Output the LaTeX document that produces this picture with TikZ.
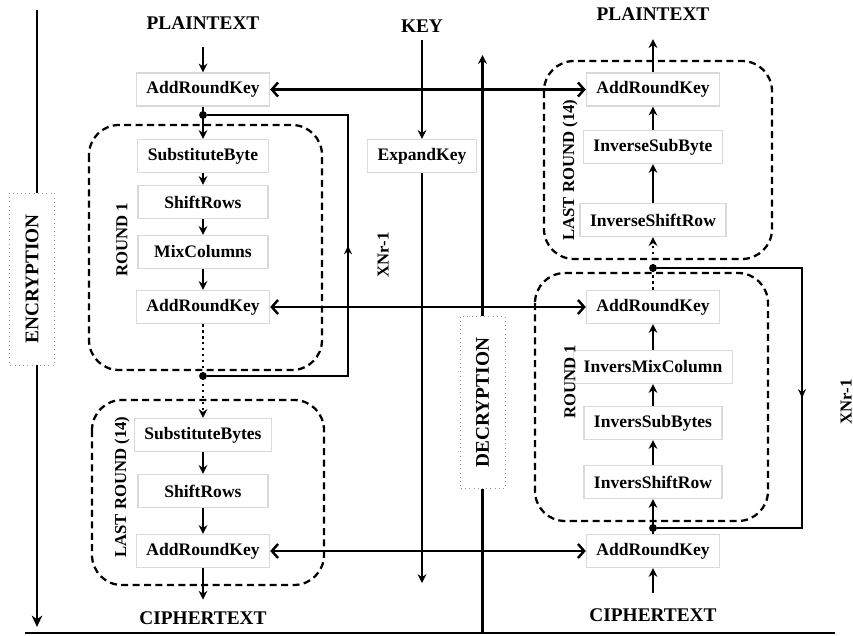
\documentclass[tikz,border=0pt]{standalone}
\usepackage{fontspec}
\setmainfont{Liberation Serif}
\usetikzlibrary{arrows.meta,decorations.markings}

\begin{document}
\begin{tikzpicture}[x=0.02cm,y=-0.02cm,
	op/.style={draw=gray!30,line width=0.7pt,fill=white,font=\bfseries\fontsize{10}{12}\selectfont,minimum height=0.66cm,minimum width=2.6cm,inner xsep=0.2cm},
	lbl/.style={font=\bfseries\fontsize{11}{13}\selectfont,inner sep=0pt},
	tag/.style={font=\bfseries\fontsize{9.5}{11}\selectfont,rotate=90,inner sep=0pt},
	side/.style={draw=gray!80,dotted,fill=white,rotate=90,minimum width=3.44cm,minimum height=0.9cm,font=\bfseries\fontsize{11}{13}\selectfont},
	roundbox/.style={line width=1.3pt,rounded corners=0.6cm,dash pattern=on 4pt off 2.5pt},
	arr/.style={line width=1.4pt,-{Stealth[length=5pt,width=5pt]}},
	darr/.style={line width=1.4pt,{Straight Barb[length=3.5pt,width=8pt]}-{Straight Barb[length=3.5pt,width=8pt]}},
	dot/.style={circle,fill,inner sep=0pt,minimum size=4.5pt},
	loopline/.style={line width=1pt,postaction={decorate},decoration={markings,mark=at position 0.5 with {\arrow{Stealth[length=5pt,width=4.5pt]}}}}]
	\useasboundingbox (0,0) rectangle (853,636);

	\draw[roundbox] (89,125) rectangle (322,370);
	\draw[roundbox] (92,400) rectangle (324,585);
	\draw[roundbox] (544,61) rectangle (772,259);
	\draw[roundbox] (535,273) rectangle (768,521);

	\node[lbl] (ptl) at (203,23) {PLAINTEXT};
	\node[op] (ark0) at (203,89.5) {AddRoundKey};
	\node[op] (sb1) at (203,156) {SubstituteByte};
	\node[op] (sr1) at (203,202) {ShiftRows};
	\node[op] (mc1) at (203,252) {MixColumns};
	\node[op] (ark1) at (203,307) {AddRoundKey};
	\node[op] (sb2) at (203,435) {SubstituteBytes};
	\node[op] (sr2) at (203,491) {ShiftRows};
	\node[op] (ark2) at (203,551) {AddRoundKey};
	\node[lbl] (ctl) at (203,618) {CIPHERTEXT};

	\node[lbl] (ptr) at (653,14) {PLAINTEXT};
	\node[op] (arkr3) at (653,89.5) {AddRoundKey};
	\node[op] (isb3) at (653,147) {InverseSubByte};
	\node[op] (isr3) at (653,220) {InverseShiftRow};
	\node[op] (arkr2) at (653,307) {AddRoundKey};
	\node[op] (imc) at (653,367) {InversMixColumn};
	\node[op] (isb) at (653,423) {InversSubBytes};
	\node[op] (isr) at (653,482) {InversShiftRow};
	\node[op] (arkb) at (653,551) {AddRoundKey};
	\node[lbl] (ctr) at (653,615) {CIPHERTEXT};

	\node[lbl] (key) at (422,26) {KEY};
	\node[op,minimum width=2.18cm] (exp) at (422,156) {ExpandKey};

	\node[side] (enc) at (32,279) {ENCRYPTION};
	\node[side] (dec) at (482.5,402.5) {DECRYPTION};

	\node[tag] (r1l) at (122,240) {ROUND 1};
	\node[tag] (lrl) at (122,487) {LAST ROUND (14)};
	\node[tag] (lrr) at (570,170) {LAST ROUND (14)};
	\node[tag] (r1r) at (570,382) {ROUND 1};
	\node[tag] (xl) at (383,255) {XNr-1};
	\node[tag] (xr) at (846,402) {XNr-1};

	\node[dot] (d1) at (203,115) {};
	\node[dot] (d2) at (203,376) {};
	\node[dot] (d3) at (653,268) {};
	\node[dot] (d4) at (653,528) {};

	\coordinate (l1) at (348,376);
	\coordinate (l2) at (348,115);
	\coordinate (r1) at (802,268);
	\coordinate (r2) at (802,528);
	\coordinate (kend) at (422,583);
	\coordinate (etop) at (37,10);
	\coordinate (ebot) at (37,627);
	\coordinate (dtop) at (482.5,55);
	\coordinate (dbot) at (482.5,633);
	\coordinate (bl) at (25,633);
	\coordinate (br) at (835,633);

	\draw[arr,shorten <=0.35cm] (ptl) -- (ark0);
	\draw[arr] (ark0) -- (sb1);
	\draw[arr] (sb1) -- (sr1);
	\draw[arr] (sr1) -- (mc1);
	\draw[arr] (mc1) -- (ark1);
	\draw[arr,dotted] (ark1) -- (sb2);
	\draw[arr] (sb2) -- (sr2);
	\draw[arr] (sr2) -- (ark2);
	\draw[arr,shorten >=0.23cm] (ark2) -- (ctl);

	\draw[arr,shorten <=0.31cm] (ctr) -- (arkb);
	\draw[arr] (arkb) -- (isr);
	\draw[arr] (isr) -- (isb);
	\draw[arr] (isb) -- (imc);
	\draw[arr] (imc) -- (arkr2);
	\draw[arr,dotted] (arkr2) -- (isr3);
	\draw[arr] (isr3) -- (isb3);
	\draw[arr] (isb3) -- (arkr3);
	\draw[arr,shorten >=0.37cm] (arkr3) -- (ptr);

	\draw[arr,shorten <=0.15cm] (key) -- (exp);
	\draw[arr] (exp) -- (kend);

	\draw[darr] (ark0) -- (arkr3);
	\draw[darr] (ark1) -- (arkr2);
	\draw[darr] (ark2) -- (arkb);

	\draw[loopline] (d2) -- (l1) -- (l2) -- (d1);
	\draw[loopline] (d3) -- (r1) -- (r2) -- (d4);

	\draw[line width=1.7pt] (etop) -- (etop |- enc.east);
	\draw[line width=1.7pt,-{Stealth[length=6.5pt,width=6pt]}] (etop |- enc.west) -- (ebot);
	\draw[arr] (dec.east) -- (dtop);
	\draw[line width=1.4pt] (dec.west) -- (dbot);
	\draw[line width=1.7pt] (bl) -- (br);
\end{tikzpicture}
\end{document}
